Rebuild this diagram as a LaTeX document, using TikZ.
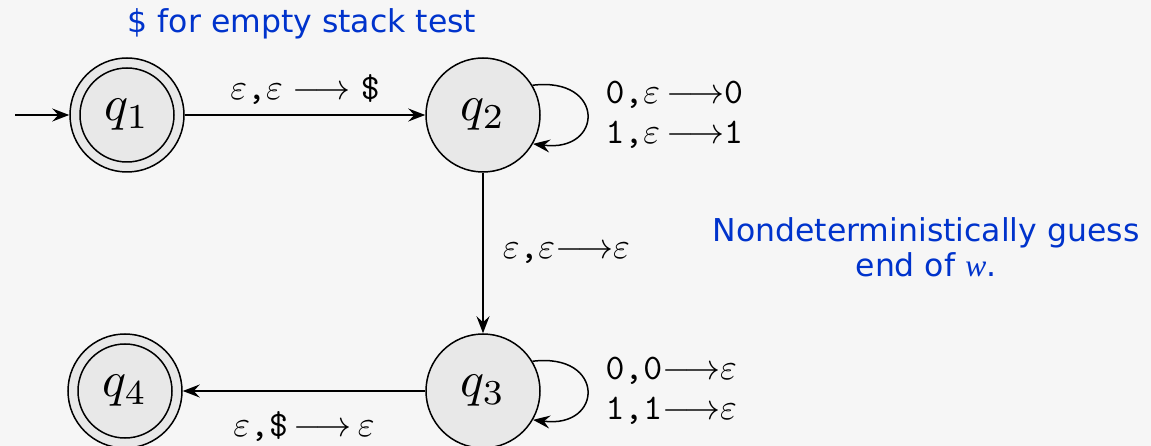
\documentclass[tikz,border=0pt]{standalone}
\usepackage{fontspec}
\newfontfamily\notefont{DejaVu Sans}
\newfontfamily\noteserif{Liberation Serif}
\usetikzlibrary{arrows.meta}
\definecolor{noteblue}{RGB}{0,51,204}
\definecolor{bgc}{RGB}{246,246,246}
\definecolor{statefill}{RGB}{232,232,232}
\newcommand\lblbox[1]{\scalebox{3.6}{\ttfamily #1}}
\newcommand\qlab[1]{\scalebox{5}{$q_{#1}$}}
\newcommand\larr{\mathord{\longrightarrow}}
\tikzset{
  state/.style={circle, draw, line width=1.5pt, fill=statefill, minimum size=114pt,
    inner sep=0pt},
  edge/.style={line width=1.5pt, -{Stealth[length=17pt,width=13pt,inset=6pt]}},
  lbl/.style={inner sep=0pt, font=\fontsize{10}{40}\selectfont},
  note/.style={inner sep=0pt, text=noteblue, font=\notefont\fontsize{31.5}{35}\selectfont},
}
\begin{document}
\begin{tikzpicture}[x=1pt,y=-1pt]
\fill[bgc] (0,0) rectangle (1151,446);
\useasboundingbox (0,0) rectangle (1151,446);

\node[state] (q1) at (127,115) {\qlab{1}};
\draw[line width=1.5pt] (q1.center) circle[radius=47];
\node[state] (q2) at (483,115) {\qlab{2}};
\node[state] (q3) at (483,391) {\qlab{3}};
\node[state] (q4) at (125,391) {\qlab{4}};
\draw[line width=1.5pt] (q4.center) circle[radius=47];

\coordinate (start) at (15,115);
\draw[edge] (start) -- (q1);
\draw[edge] (q1) -- node[lbl, above=10pt] {\lblbox{$\varepsilon$,$\varepsilon\;\larr\;$\$}} (q2);
\draw[edge] (q2) -- node[lbl, right=19pt] {\lblbox{$\varepsilon$,$\varepsilon\larr\varepsilon$}} (q3);
\draw[edge] (q3) -- node[lbl, below=20pt] {\lblbox{$\varepsilon$,\$$\,\larr\,\varepsilon$}} (q4);

\draw[edge] (q2.31) .. controls +(73,-9) and +(71,9) .. (q2.-30)
  node[lbl, pos=0.5, anchor=west, xshift=18pt, align=left]
  {\lblbox{0,$\varepsilon\,\larr$0}\\\lblbox{1,$\varepsilon\,\larr$1}};
\draw[edge] (q3.31) .. controls +(73,-9) and +(71,9) .. (q3.-30)
  node[lbl, pos=0.5, anchor=west, xshift=18pt, align=left]
  {\lblbox{0,0$\larr\varepsilon$}\\\lblbox{1,1$\larr\varepsilon$}};

\node[note, anchor=base] (n1) at (302,33) {\$ for empty stack test};
\node[note, anchor=base] (n2) at (926,242) {Nondeterministically guess};
\node[note, anchor=base] (n3) at (926,277) {end of {\noteserif\itshape w}.};
\end{tikzpicture}
\end{document}
